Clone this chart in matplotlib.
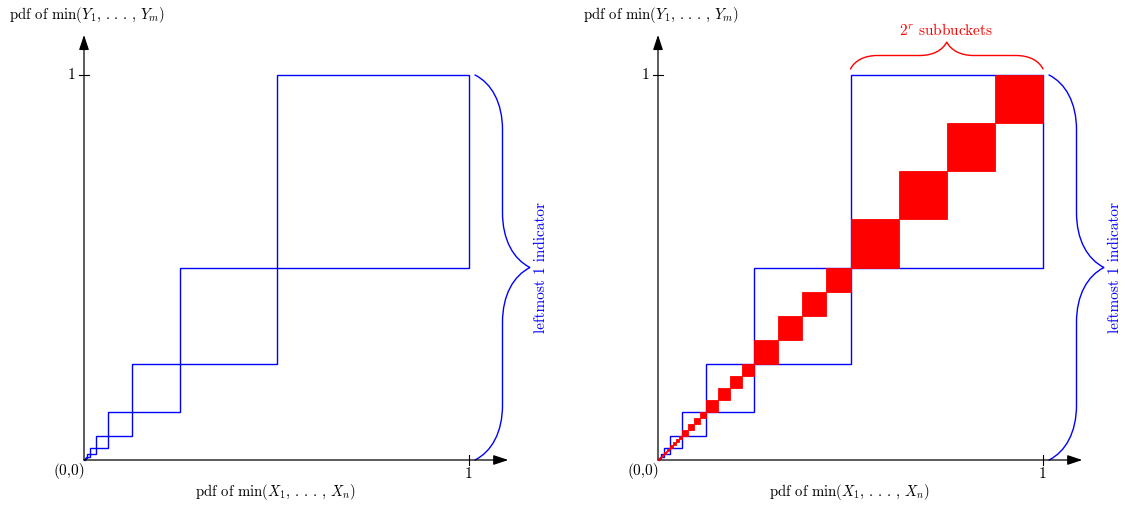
import matplotlib
matplotlib.use("Agg")
import matplotlib.pyplot as plt
from matplotlib.path import Path
from matplotlib.patches import PathPatch, Rectangle
import numpy as np

plt.rcParams['font.family'] = 'serif'
plt.rcParams['font.serif'] = ['cmr10', 'DejaVu Serif']
plt.rcParams['mathtext.fontset'] = 'cm'
plt.rcParams['axes.formatter.use_mathtext'] = True

# ---- data ----
bucket_edges = [1, 0.5, 0.25, 0.125, 0.0625, 0.03125, 0.015625, 0.0078125, 0.00390625, 0.001953125]
n_subbuckets = 4          # 2^r with r = 2
x_label = r"pdf of $\min(X_1,\,.\,.\,.\,,\,X_n)$"
y_label = r"pdf of $\min(Y_1,\,.\,.\,.\,,\,Y_m)$"
brace_label = "leftmost 1 indicator"
sub_label = r"$2^r$ subbuckets"
tick_labels = ["1", "1"]
origin_label = "(0,0)"

BLUE = (0, 0, 1)
RED = (1, 0, 0)
SCALE = 385.0  # px per unit
W, H = 1125, 508

fig = plt.figure(figsize=(W / 100, H / 100), dpi=100)


def make_axes(left_px, width_px, origin_px):
    ax = fig.add_axes([left_px / W, 0, width_px / W, 1])
    ox, oy = origin_px
    ax.set_xlim(-(ox - left_px) / SCALE, (left_px + width_px - ox) / SCALE)
    ax.set_ylim(-(H - oy) / SCALE, oy / SCALE)
    ax.axis('off')
    return ax


def brace(ax, p0, p1, amp, color, lw=1.0):
    p0 = np.array(p0, float)
    p1 = np.array(p1, float)
    d = p1 - p0
    L = np.hypot(*d)
    u = d / L
    n = np.array([-u[1], u[0]])  # left-hand normal
    A = amp
    pts_uv = [
        (0, 0),
        (0.15 * A, 0.3 * A), (0.5 * A, 0.5 * A), (A, 0.5 * A),
        (L / 2 - A, 0.5 * A),
        (L / 2 - 0.5 * A, 0.5 * A), (L / 2 - 0.15 * A, 0.7 * A), (L / 2, A),
        (L / 2 + 0.15 * A, 0.7 * A), (L / 2 + 0.5 * A, 0.5 * A), (L / 2 + A, 0.5 * A),
        (L - A, 0.5 * A),
        (L - 0.5 * A, 0.5 * A), (L - 0.15 * A, 0.3 * A), (L, 0),
    ]
    codes = [Path.MOVETO] + [Path.CURVE4] * 3 + [Path.LINETO] + [Path.CURVE4] * 6 + \
            [Path.LINETO] + [Path.CURVE4] * 3
    verts = [tuple(p0 + a * u + b * n) for a, b in pts_uv]
    ax.add_patch(PathPatch(Path(verts, codes), fill=False, edgecolor=color,
                           lw=lw, clip_on=False, capstyle='round'))


def draw_panel(ax, with_sub):
    # axes arrows
    ax.annotate("", xy=(1.102, 0), xytext=(0, 0),
                arrowprops=dict(arrowstyle="-|>,head_length=0.9,head_width=0.3",
                                color="black", lw=0.9, shrinkA=0, shrinkB=0))
    ax.annotate("", xy=(0, 1.104), xytext=(0, 0),
                arrowprops=dict(arrowstyle="-|>,head_length=0.9,head_width=0.3",
                                color="black", lw=0.9, shrinkA=0, shrinkB=0))
    t = 5 / SCALE
    ax.plot([1, 1], [-t, t], color="black", lw=0.8)
    ax.plot([-t, t], [1, 1], color="black", lw=0.8)
    ax.text(1, -0.036, tick_labels[0], ha="center", va="center", fontsize=11)
    ax.text(-0.032, 1, tick_labels[1], ha="center", va="center", fontsize=11)
    ax.text(-0.037, -0.029, origin_label, ha="center", va="center", fontsize=11)
    ax.text(0.497, -0.083, x_label, ha="center", va="center", fontsize=10.6)
    ax.text(0.008, 1.156, y_label, ha="center", va="center", fontsize=10.6)

    # buckets
    for a2 in bucket_edges:
        a = a2 / 2
        ax.add_patch(Rectangle((a, a), a, a, fill=False, edgecolor=BLUE, lw=1.0, zorder=2))
        if with_sub:
            s = a / n_subbuckets
            for i in range(n_subbuckets):
                ax.add_patch(Rectangle((a + i * s, a + i * s), s, s, facecolor=RED,
                                       edgecolor=RED, lw=0.6, zorder=3))

    off = 6 / SCALE
    brace(ax, (1 + off, 1), (1 + off, 0), 55 / SCALE, BLUE)
    ax.text(1.187, 0.5, brace_label, rotation=90, ha="center", va="center",
            color=BLUE, fontsize=11)
    if with_sub:
        brace(ax, (0.5, 1 + off), (1, 1 + off), 27 / SCALE, RED)
        ax.text(0.748, 1.116, sub_label, ha="center", va="center", color=RED, fontsize=11)


ax1 = make_axes(0, 562, (84, 460))
draw_panel(ax1, False)
ax2 = make_axes(562, 563, (658, 460))
draw_panel(ax2, True)

fig.savefig("out.png", dpi=100)
